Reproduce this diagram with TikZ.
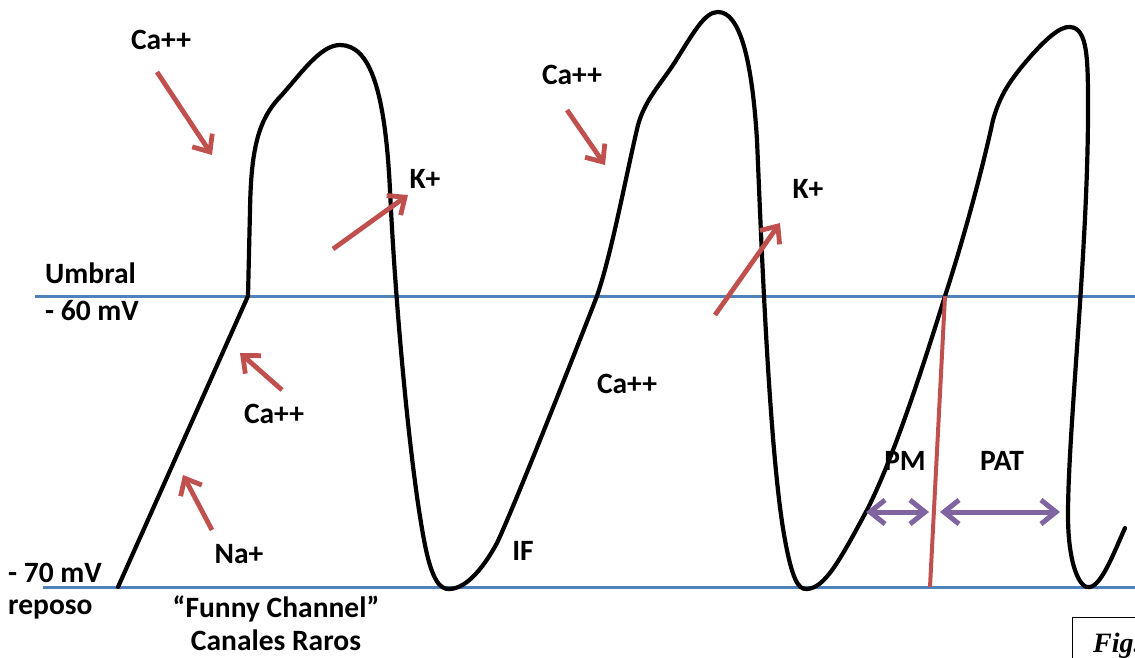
\documentclass[tikz,border=0pt]{standalone}
\usepackage{fontspec}
\setmainfont{Carlito}
\newfontfamily\figfont{Liberation Serif}
\usetikzlibrary{arrows.meta}
\definecolor{lineblue}{HTML}{4F81BD}
\definecolor{arrred}{HTML}{C0504D}
\definecolor{arrpurple}{HTML}{8064A2}
\begin{document}
\begin{tikzpicture}[x=1pt,y=-1pt,
  lbl/.style={font=\fontsize{29.5}{31}\selectfont\bfseries, inner sep=0pt, anchor=base},
  lbll/.style={lbl, anchor=base west},
  level/.style={draw=lineblue, line width=3pt},
  trace/.style={draw=black, line width=4.2pt, line join=round, line cap=round},
  redarrow/.style={draw=arrred, line width=4.8pt, -{Straight Barb[length=14pt,width=24pt]}},
  purparrow/.style={draw=arrpurple, line width=5pt, {Straight Barb[length=15pt,width=24pt]}-{Straight Barb[length=15pt,width=24pt]}},
  redline/.style={draw=arrred, line width=4pt}]
\useasboundingbox (0,0) rectangle (1135,658);
\clip (0,0) rectangle (1135,658);
% threshold and rest levels
\coordinate (thrA) at (35,296);
\coordinate (thrB) at (1135,296);
\coordinate (restA) at (43,587);
\coordinate (restB) at (1135,587);
\draw[level] (thrA) -- (thrB);
\draw[level] (restA) -- (restB);
% action potential trace
\draw[trace] (118,587) -- (248,296) -- (250,210)
  .. controls (251,150) and (258,120) .. (280,97)
  .. controls (300,75) and (320,45) .. (340,45)
  .. controls (370,45) and (385,90) .. (390,190)
  .. controls (395,300) and (410,470) .. (425,545)
  .. controls (432,580) and (440,590) .. (450,589)
  .. controls (468,588) and (485,565) .. (497,543)
  .. controls (515,505) and (580,340) .. (597,296)
  .. controls (612,252) and (625,180) .. (638,125)
  .. controls (645,100) and (660,85) .. (675,62)
  .. controls (695,30) and (705,12) .. (718,12)
  .. controls (740,12) and (752,60) .. (757,140)
  .. controls (762,260) and (770,460) .. (785,540)
  .. controls (792,578) and (798,590) .. (807,589)
  .. controls (825,588) and (840,560) .. (867,510)
  .. controls (895,455) and (925,360) .. (945,296)
  .. controls (960,250) and (980,180) .. (993,120)
  .. controls (1000,95) and (1010,80) .. (1030,57)
  .. controls (1045,40) and (1060,26) .. (1070,27)
  .. controls (1088,28) and (1088,60) .. (1088,110)
  .. controls (1088,250) and (1068,430) .. (1068,515)
  .. controls (1068,565) and (1080,590) .. (1090,587)
  .. controls (1102,585) and (1115,550) .. (1125,528);
% red arrows
\coordinate (a1s) at (157,72);  \coordinate (a1e) at (212,155);
\coordinate (a2s) at (333,249); \coordinate (a2e) at (408,195);
\coordinate (a3s) at (567,110); \coordinate (a3e) at (605,165);
\coordinate (a4s) at (715,315); \coordinate (a4e) at (780,223);
\coordinate (a5s) at (282,390); \coordinate (a5e) at (240,353);
\coordinate (a6s) at (212,530); \coordinate (a6e) at (183,475);
\draw[redarrow] (a1s) -- (a1e);
\draw[redarrow] (a2s) -- (a2e);
\draw[redarrow] (a3s) -- (a3e);
\draw[redarrow] (a4s) -- (a4e);
\draw[redarrow] (a5s) -- (a5e);
\draw[redarrow] (a6s) -- (a6e);
% red vertical marker
\coordinate (mtop) at (945,296);
\coordinate (mbot) at (930,587);
\draw[redline] (mtop) -- (mbot);
% purple double arrows
\coordinate (pm1) at (866,512); \coordinate (pm2) at (929,512);
\coordinate (pa1) at (940,512); \coordinate (pa2) at (1060,512);
\draw[purparrow] (pm1) -- (pm2);
\draw[purparrow] (pa1) -- (pa2);
% labels
\node[lbl] (ca1) at (161,50) {Ca++};
\node[lbl] (k1) at (425,188) {K+};
\node[lbl] (ca2) at (572,85) {Ca++};
\node[lbl] (k2) at (808,198) {K+};
\node[lbl] (ca3) at (274,423) {Ca++};
\node[lbl] (na) at (239,563) {Na+};
\node[lbl] (ca4) at (627,393) {Ca++};
\node[lbl] (if) at (523,560) {IF};
\node[lbll] (umb) at (45,283) {Umbral};
\node[lbll] (m60) at (45,320) {- 60 mV};
\node[lbll] (m70) at (8,582) {- 70 mV};
\node[lbll] (rep) at (8,614) {reposo};
\node[lbl] (fun) at (276,617) {“Funny Channel”};
\node[lbl] (can) at (276,650) {Canales Raros};
\node[lbl] (pm) at (905,470) {PM};
\node[lbl] (pat) at (1002,470) {PAT};
% figure caption box (cut off at the edge, as in the reference)
\draw[line width=1pt] (1072,617) rectangle (1150,680);
\node[inner sep=0pt, anchor=base west, font=\figfont\fontsize{28}{30}\selectfont\bfseries\itshape] (fig) at (1093,652) {Fig.};
\end{tikzpicture}
\end{document}
